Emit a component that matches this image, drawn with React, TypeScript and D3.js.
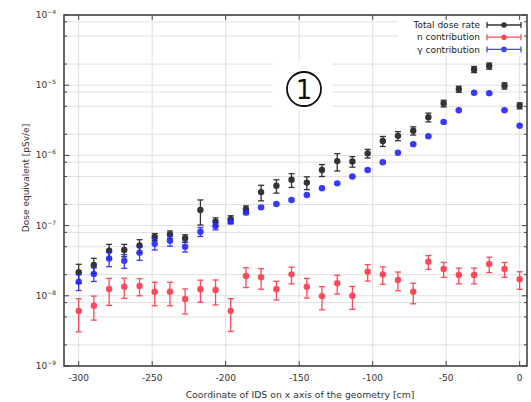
import React from "react";
import * as d3 from "d3";

const xPositions = [-300, -289.7, -279.3, -269.0, -258.6, -248.3, -237.9, -227.6, -217.2, -206.9, -196.6, -186.2, -175.9, -165.5, -155.2, -144.8, -134.5, -124.1, -113.8, -103.4, -93.1, -82.8, -72.4, -62.1, -51.7, -41.4, -31.0, -20.7, -10.3, 0];

const totalDose = [2.16e-8, 2.75e-8, 4.4e-8, 4.5e-8, 5.2e-8, 6.9e-8, 7.5e-8, 6.6e-8, 1.67e-7, 1.14e-7, 1.23e-7, 1.71e-7, 3.0e-7, 3.7e-7, 4.5e-7, 4.1e-7, 6.2e-7, 8.3e-7, 8.2e-7, 1.07e-6, 1.6e-6, 1.9e-6, 2.25e-6, 3.5e-6, 5.5e-6, 8.8e-6, 1.68e-5, 1.88e-5, 9.8e-6, 5.1e-6];
const totalErr = [6.5e-9, 6.7e-9, 1.0e-8, 9e-9, 1.1e-8, 8e-9, 9e-9, 8e-9, 6.5e-8, 1.5e-8, 1.5e-8, 2e-8, 7.5e-8, 8e-8, 1e-7, 8.5e-8, 1.2e-7, 2.3e-7, 1.4e-7, 1.5e-7, 2.6e-7, 2.8e-7, 3e-7, 5e-7, 6e-7, 8.8e-7, 1.7e-6, 1.9e-6, 1e-6, 5e-7];

const neutron = [6.07e-9, 7.2e-9, 1.25e-8, 1.35e-8, 1.38e-8, 1.14e-8, 1.14e-8, 9.0e-9, 1.24e-8, 1.21e-8, 6.1e-9, 1.91e-8, 1.84e-8, 1.24e-8, 2.02e-8, 1.35e-8, 9.9e-9, 1.51e-8, 1.0e-8, 2.2e-8, 2.02e-8, 1.68e-8, 1.14e-8, 3.06e-8, 2.41e-8, 1.98e-8, 1.98e-8, 2.84e-8, 2.41e-8, 1.72e-8];
const neutronErr = [3e-9, 2.7e-9, 5.2e-9, 4.3e-9, 3.8e-9, 4.2e-9, 4.2e-9, 3.5e-9, 4.3e-9, 4.7e-9, 3e-9, 6e-9, 6e-9, 3.7e-9, 5.4e-9, 4.2e-9, 3.6e-9, 4.5e-9, 3.6e-9, 5.8e-9, 5.6e-9, 5e-9, 3.7e-9, 6.8e-9, 5.8e-9, 5e-9, 5e-9, 7e-9, 5.8e-9, 4.8e-9];

const gamma = [1.59e-8, 2.05e-8, 3.4e-8, 3.16e-8, 4.1e-8, 5.5e-8, 6.1e-8, 5.0e-8, 8.2e-8, 9.9e-8, 1.14e-7, 1.53e-7, 1.82e-7, 2.03e-7, 2.32e-7, 2.73e-7, 3.4e-7, 4.0e-7, 5.0e-7, 6.2e-7, 8.0e-7, 1.09e-6, 1.44e-6, 1.87e-6, 3.0e-6, 4.4e-6, 7.8e-6, 7.7e-6, 4.4e-6, 2.65e-6];
const gammaErr = [4e-9, 4.5e-9, 8e-9, 7e-9, 9e-9, 1e-8, 1e-8, 8e-9, 1.2e-8, 1.2e-8, 8e-9, 8e-9, 8e-9, 8e-9, 9e-9, 1e-8, 1.2e-8, 1.4e-8, 1.6e-8, 2e-8, 2.5e-8, 3e-8, 4e-8, 5e-8, 8e-8, 1.1e-7, 2e-7, 2e-7, 1.1e-7, 7e-8];

const xTicks = [-300, -250, -200, -150, -100, -50, 0];
const yDecades = [-4, -5, -6, -7, -8, -9];
const yGridFactors = [2, 5, 8];

const seriesNames = ["Total dose rate", "n contribution", "γ contribution"];
const seriesColors = ["#333333", "#ff2b3e", "#2424ff"];

const xLabel = "Coordinate of IDS on x axis of the geometry [cm]";
const yLabel = "Dose equivalent [pSv/e]";

const W = 531, H = 402;
const L = 64, R = 527, T = 15, B = 366;
const FONT = "DejaVu Sans, sans-serif";

export default function App() {
  const x = d3.scaleLinear().domain([-310, 5]).range([L, R]);
  const y = d3.scaleLog().domain([1e-9, 1e-4]).range([B, T]);

  const gridVals: { v: number; major: boolean }[] = [];
  yDecades.forEach((e) => {
    gridVals.push({ v: Math.pow(10, e), major: true });
    yGridFactors.forEach((f) => {
      const v = f * Math.pow(10, e);
      if (v < 1e-4 && v > 1e-9) gridVals.push({ v, major: false });
    });
  });

  const series = [
    { vals: totalDose, errs: totalErr, color: seriesColors[0], op: 1 },
    { vals: neutron, errs: neutronErr, color: seriesColors[1], op: 0.85 },
    { vals: gamma, errs: gammaErr, color: seriesColors[2], op: 0.9 },
  ];

  const cap = 3;

  return (
    <svg width={W} height={H} style={{ position: "absolute", left: 0, top: 0, background: "#fff" }} fontFamily={FONT}>
      <rect x={0} y={0} width={W} height={H} fill="#fff" />
      {gridVals.map((g, i) => (
        <line key={"gy" + i} x1={L} x2={R} y1={y(g.v)} y2={y(g.v)} stroke="#e0e0e0" strokeWidth={1} />
      ))}
      {xTicks.map((t) => (
        <line key={"gx" + t} x1={x(t)} x2={x(t)} y1={T} y2={B} stroke="#e0e0e0" strokeWidth={1} />
      ))}
      <rect x={273} y={62} width={59} height={48} fill="#fff" />
      <circle cx={304} cy={89} r={17} fill="#fff" stroke="#111" strokeWidth={1.8} />
      <text x={304} y={98.5} textAnchor="middle" fontSize={26} fill="#111" fontFamily={FONT}>1</text>

      {series.map((s, si) => (
        <g key={"s" + si} stroke={s.color} fill={s.color} opacity={s.op}>
          {s.vals.map((v, i) => {
            const cx = x(xPositions[i]);
            const lo = Math.max(v - s.errs[i], 1e-10);
            const y0 = y(lo);
            const y1 = y(v + s.errs[i]);
            return (
              <g key={i}>
                <line x1={cx} x2={cx} y1={y0} y2={y1} strokeWidth={1.3} />
                <line x1={cx - cap} x2={cx + cap} y1={y0} y2={y0} strokeWidth={1.3} />
                <line x1={cx - cap} x2={cx + cap} y1={y1} y2={y1} strokeWidth={1.3} />
                <circle cx={cx} cy={y(v)} r={3.2} stroke="none" />
              </g>
            );
          })}
        </g>
      ))}

      <rect x={398} y={16} width={128} height={40} fill="#fff" />
      {seriesNames.map((n, i) => {
        const ly = 25 + i * 12.2;
        const c = seriesColors[i];
        return (
          <g key={"lg" + i}>
            <text x={480} y={ly + 3.2} textAnchor="end" fontSize={9} fill="#222">{n}</text>
            <g stroke={c} opacity={i === 0 ? 1 : 0.85}>
              <line x1={487} x2={521} y1={ly} y2={ly} strokeWidth={1.3} />
              <line x1={487} x2={487} y1={ly - 3} y2={ly + 3} strokeWidth={1.3} />
              <line x1={521} x2={521} y1={ly - 3} y2={ly + 3} strokeWidth={1.3} />
              <circle cx={504} cy={ly} r={2.8} fill={c} stroke="none" />
            </g>
          </g>
        );
      })}

      {xTicks.map((t) => (
        <g key={"tx" + t} stroke="#444" strokeWidth={1}>
          <line x1={x(t)} x2={x(t)} y1={B} y2={B - 5} />
          <line x1={x(t)} x2={x(t)} y1={T} y2={T + 5} />
        </g>
      ))}
      {gridVals.map((g, i) => (
        <g key={"ty" + i} stroke="#444" strokeWidth={1}>
          <line x1={L} x2={L + (g.major ? 5 : 3)} y1={y(g.v)} y2={y(g.v)} />
          <line x1={R} x2={R - (g.major ? 5 : 3)} y1={y(g.v)} y2={y(g.v)} />
        </g>
      ))}

      <rect x={L} y={T} width={R - L} height={B - T} fill="none" stroke="#444" strokeWidth={1.6} />

      {xTicks.map((t) => (
        <text key={"lx" + t} x={x(t)} y={B + 15} textAnchor="middle" fontSize={9} fill="#333">{t}</text>
      ))}
      {yDecades.map((e) => (
        <text key={"ly" + e} x={56} y={y(Math.pow(10, e)) + 3} textAnchor="end" fontSize={9} fill="#333">
          <tspan>10</tspan>
          <tspan dy={-4} fontSize={6}>{"−" + Math.abs(e)}</tspan>
        </text>
      ))}

      <text x={300} y={398} textAnchor="middle" fontSize={9.3} fill="#333">{xLabel}</text>
      <text transform={`translate(29,178) rotate(-90)`} textAnchor="middle" fontSize={9} fill="#333">{yLabel}</text>
    </svg>
  );
}
